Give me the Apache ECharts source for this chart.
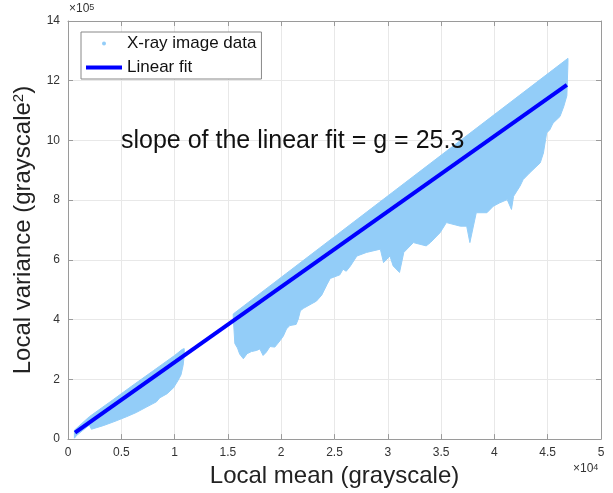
<!DOCTYPE html>
<html>
<head>
<meta charset="utf-8">
<script src="https://cdn.jsdelivr.net/npm/echarts@6/dist/echarts.min.js"></script>
<style>
  html, body { margin: 0; padding: 0; background: #fff; }
  #chart { width: 613px; height: 493px; }
</style>
</head>
<body>
<div id="chart"></div>
<script>
// x in units of 1e4, y in units of 1e5 (see the x10^4 / x10^5 markers)
const xTicks = [0, 0.5, 1, 1.5, 2, 2.5, 3, 3.5, 4, 4.5, 5]
const yTicks = [0, 2, 4, 6, 8, 10, 12, 14]

// edges of the X-ray data cloud
const band1Upper = [[0.06, 0.30], [0.2, 0.75], [0.4, 1.26], [0.6, 1.78], [0.8, 2.29], [1.0, 2.80], [1.07, 3.0], [1.09, 3.03]]
const band1Lower = [[0.06, 0.03], [0.08, 0.12], [0.2, 0.47], [0.22, 0.33], [0.33, 0.45], [0.43, 0.58], [0.55, 0.75],
  [0.64, 0.89], [0.74, 1.08], [0.83, 1.25], [0.86, 1.38], [0.93, 1.52], [0.99, 1.72], [1.03, 1.95],
  [1.06, 2.15], [1.08, 2.47], [1.09, 2.80]]
const band2Upper = [[1.55, 4.19], [4.69, 12.75]]
const band2Lower = [[1.55, 4.10], [1.565, 3.20], [1.59, 3.05], [1.61, 2.85], [1.645, 2.69], [1.68, 2.86], [1.72, 2.93],
  [1.77, 2.97], [1.80, 3.02], [1.83, 2.80], [1.86, 2.91], [1.895, 3.10], [1.94, 3.08], [1.99, 3.30],
  [2.02, 3.45], [2.05, 3.69], [2.08, 3.80], [2.14, 3.84], [2.16, 4.02], [2.18, 4.30], [2.21, 4.38],
  [2.27, 4.50], [2.33, 4.62], [2.38, 4.82], [2.43, 5.18], [2.46, 5.38], [2.55, 5.50], [2.58, 5.69],
  [2.61, 5.62], [2.65, 5.80], [2.71, 6.13], [2.80, 6.25], [2.93, 6.36], [2.96, 5.91], [3.02, 6.13],
  [3.05, 5.80], [3.11, 5.58], [3.15, 6.25], [3.24, 6.58], [3.36, 6.47], [3.40, 6.58], [3.49, 6.91],
  [3.55, 7.25], [3.68, 7.13], [3.74, 7.13], [3.77, 6.58], [3.83, 7.58], [3.93, 7.58], [3.99, 7.80],
  [4.05, 7.91], [4.12, 8.02], [4.16, 7.69], [4.18, 8.13], [4.24, 8.47], [4.27, 8.69], [4.33, 8.91],
  [4.43, 9.25], [4.46, 9.58], [4.49, 10.25], [4.52, 10.36], [4.55, 10.58], [4.615, 10.80], [4.65, 11.13],
  [4.68, 11.5], [4.69, 12.6]]

// linear fit end points
const fitLine = [[0.066, 0.22], [4.68, 11.86]]

const bands = [
  { upper: band1Upper, lower: band1Lower },
  { upper: band2Upper, lower: band2Lower }
]

const cloudColor = '#93CDF8'
const axisGrey = '#9a9a9a'
const labelColor = '#333'
const font = 'Liberation Sans, Arial, sans-serif'

function axisBase(extra) {
  return Object.assign({
    type: 'value',
    axisLine: { show: true, onZero: false, lineStyle: { color: axisGrey, width: 1 } },
    axisTick: { show: true, inside: true, length: 5, lineStyle: { color: axisGrey } },
    splitLine: { show: false },
    axisLabel: { show: false }
  }, extra)
}

const chart = echarts.init(document.getElementById('chart'))
chart.setOption({
  animation: false,
  textStyle: { fontFamily: font },
  grid: { left: 68, right: 12, top: 21, bottom: 52 },
  legend: {
    orient: 'vertical',
    left: 81,
    top: 32,
    padding: [3, 5, 3, 5],
    itemGap: 7,
    itemWidth: 36,
    itemHeight: 4,
    backgroundColor: '#fff',
    borderColor: '#888',
    borderWidth: 1,
    textStyle: { fontSize: 17, color: '#111', fontFamily: font },
    data: [
      { name: 'X-ray image data', icon: 'circle' },
      { name: 'Linear fit', icon: 'rect' }
    ]
  },
  xAxis: [
    axisBase({
      min: xTicks[0], max: xTicks[xTicks.length - 1], interval: 0.5,
      position: 'bottom',
      splitLine: { show: true, lineStyle: { color: '#e8e8e8' } },
      axisLabel: { show: true, color: labelColor, fontSize: 12, margin: 8 },
      name: 'Local mean (grayscale)',
      nameLocation: 'middle',
      nameGap: 24,
      nameTextStyle: { fontSize: 24, color: '#222' }
    }),
    axisBase({ min: 0, max: 5, interval: 0.5, position: 'top' })
  ],
  yAxis: [
    axisBase({
      min: yTicks[0], max: yTicks[yTicks.length - 1], interval: 2,
      position: 'left',
      splitLine: { show: true, lineStyle: { color: '#e8e8e8' } },
      axisLabel: { show: true, color: labelColor, fontSize: 12, margin: 8 },
      name: 'Local variance (grayscale{sup|2})',
      nameLocation: 'middle',
      nameGap: 22,
      nameTextStyle: {
        fontSize: 24, color: '#222',
        rich: { sup: { fontSize: 15, verticalAlign: 'top', color: '#222', lineHeight: 24 } }
      }
    }),
    axisBase({ min: 0, max: 14, interval: 2, position: 'right' })
  ],
  graphic: [
    {
      type: 'text', left: 69, top: 3,
      style: {
        text: '×10{s|5}', fill: labelColor, font: '12px ' + font,
        rich: { s: { fontSize: 9, verticalAlign: 'top', fill: labelColor } }
      }
    },
    {
      type: 'text', left: 573, top: 463,
      style: {
        text: '×10{s|4}', fill: labelColor, font: '12px ' + font,
        rich: { s: { fontSize: 9, verticalAlign: 'top', fill: labelColor } }
      }
    },
    {
      type: 'text', left: 121, top: 129, z: 100,
      style: { text: 'slope of the linear fit = g = 25.3', fill: '#111', font: '25px ' + font }
    }
  ],
  series: [
    {
      name: 'X-ray image data',
      type: 'custom',
      coordinateSystem: 'cartesian2d',
      itemStyle: { color: cloudColor },
      data: bands.map(b => b.upper[0]),
      renderItem: function (params, api) {
        const band = bands[params.dataIndex]
        const pts = band.upper.concat(band.lower.slice().reverse()).map(p => api.coord(p))
        return {
          type: 'polygon',
          shape: { points: pts },
          style: { fill: cloudColor, stroke: cloudColor, lineWidth: 1 }
        }
      }
    },
    {
      name: 'Linear fit',
      type: 'line',
      data: fitLine,
      symbol: 'none',
      lineStyle: { color: '#0000ff', width: 4 },
      itemStyle: { color: '#0000ff' },
      z: 5
    }
  ]
})
</script>
</body>
</html>
